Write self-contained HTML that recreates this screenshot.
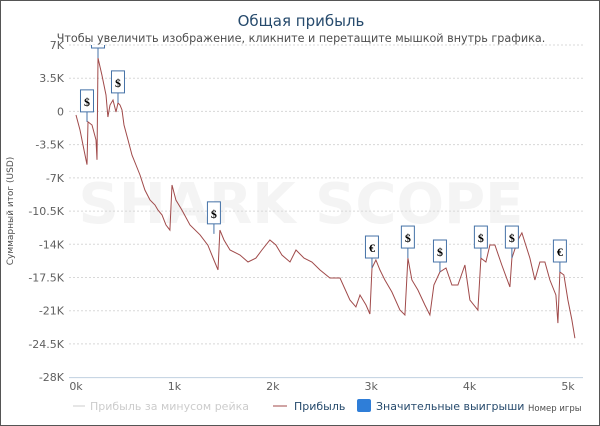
<!DOCTYPE html>
<html><head><meta charset="utf-8"><style>
body{margin:0;background:#fff;font-family:"Liberation Sans","DejaVu Sans",sans-serif}
#wrap{position:relative;width:598px;height:424px;border:1px solid #555;overflow:hidden}
svg text{font-family:"DejaVu Sans","Liberation Sans",sans-serif}
</style></head><body>
<div id="wrap">
<svg id="chart" width="598" height="424">
<defs><clipPath id="plotclip"><rect x="68" y="44" width="516" height="340"/></clipPath></defs>
<text x="300" y="25" text-anchor="middle" font-size="15" fill="#274b6d">Общая прибыль</text>
<text x="300" y="41" text-anchor="middle" font-size="11.2" fill="#4d4d4d">Чтобы увеличить изображение, кликните и перетащите мышкой внутрь графика.</text>
<text x="300" y="222" text-anchor="middle" font-size="56" font-weight="bold" fill="#f4f4f4">SHARK SCOPE</text>
<g id="grid"></g><g id="series"></g><g id="flags" clip-path="url(#plotclip)"></g><g id="axes"></g>
<text transform="translate(12,210) rotate(-90)" text-anchor="middle" font-size="9" fill="#4d4d4d">Суммарный итог (USD)</text>
<g>
<line x1="72" y1="405" x2="84" y2="405" stroke="#ccc"/>
<text x="89" y="409" font-size="11" fill="#ccc">Прибыль за минусом рейка</text>
<line x1="272" y1="405" x2="286" y2="405" stroke="#a04a4a"/>
<text x="293" y="409" font-size="11" fill="#274b6d">Прибыль</text>
<rect x="356" y="398" width="14" height="13" rx="2" fill="#2f7ed8"/>
<text x="375" y="409" font-size="11" fill="#274b6d">Значительные выигрыши</text>
<text x="527" y="410" font-size="8.5" fill="#4d4d4d">Номер игры</text>
</g>
</svg></div>
<script>
const games=[20,61,102,132,142,183,224,234,244,284,325,345,366,396,427,447,467,488,508,549,589,630,671,721,772,823,853,894,935,975,996,1036,1097,1179,1280,1361,1422,1463,1483,1524,1585,1687,1768,1849,1910,1991,2052,2113,2195,2256,2337,2418,2499,2601,2703,2804,2865,2906,2967,3007,3028,3068,3109,3160,3231,3312,3363,3393,3434,3495,3566,3617,3658,3719,3780,3840,3901,3973,4023,4105,4135,4186,4227,4277,4348,4430,4450,4511,4552,4633,4684,4735,4786,4836,4897,4918,4938,4979,5019,5060,5090];
const profit=[-0.38,-1.96,-4.06,-5.6,-1.1,-1.43,-3.0,-5.1,5.63,3.84,1.73,-0.59,0.68,1.2,-0.06,0.9,0.68,0.15,-1.43,-3.0,-4.6,-5.64,-6.7,-8.28,-9.33,-9.86,-10.39,-10.9,-11.97,-12.5,-7.75,-9.33,-10.39,-11.97,-13.0,-14.1,-15.66,-16.7,-12.5,-13.55,-14.6,-15.13,-15.87,-15.45,-14.6,-13.55,-14.07,-15.13,-15.87,-14.6,-15.45,-15.87,-16.7,-17.55,-17.55,-19.87,-20.6,-19.34,-20.4,-21.35,-16.5,-15.66,-16.7,-17.76,-19.03,-20.92,-21.45,-15.45,-17.76,-18.82,-20.4,-21.45,-18.29,-16.92,-16.5,-18.29,-18.29,-16.18,-19.87,-20.92,-15.45,-15.87,-14.07,-14.07,-16.18,-18.5,-15.45,-13.55,-12.8,-15.45,-17.76,-15.87,-15.87,-17.76,-19.34,-22.3,-16.92,-17.24,-19.87,-21.98,-23.9];
const flagGames=[132,244,447,1422,3028,3393,3719,4135,4450,4938];
const flagValues=[-1.1,5.63,0.9,-12.9,-16.5,-15.45,-16.92,-15.45,-15.45,-16.92];
const flagSymbols=["$","$","$","$","€","$","$","$","$","€"];
const yTicks=[7,3.5,0,-3.5,-7,-10.5,-14,-17.5,-21,-24.5,-28];
const yLabels=["7K","3.5K","0","-3.5K","-7K","-10.5K","-14K","-17.5K","-21K","-24.5K","-28K"];
const xTicks=[0,1000,2000,3000,4000,5000];
const xLabels=["0k","1k","2k","3k","4k","5k"];
const NS="http://www.w3.org/2000/svg";
const X=g=>73+g*0.0984, Y=v=>44+(7-v)*9.49;
function mk(t,a,p){const e=document.createElementNS(NS,t);for(const k in a)e.setAttribute(k,a[k]);p.appendChild(e);return e;}
const grid=document.getElementById('grid'),axes=document.getElementById('axes');
yTicks.forEach((v,i)=>{
 if(i<yTicks.length-1){const l=mk('line',{x1:68,x2:582,y1:Y(v),y2:Y(v),stroke:'#d8d8d8','stroke-dasharray':'2,2'},grid);
 
 }
 const t=mk('text',{x:63,y:Y(v)+4,'text-anchor':'end','font-size':11,fill:'#606060'},axes);t.textContent=yLabels[i];
 
 
});
const ax=mk('line',{x1:68,x2:582,y1:Y(-28)+0.5,y2:Y(-28)+0.5,stroke:'#c0d0e0'},axes);


xTicks.forEach((g,i)=>{const t=mk('text',{x:X(g)+2,y:389,'text-anchor':'middle','font-size':11,fill:'#606060'},axes);t.textContent=xLabels[i];
 
 });
const pts=games.map((g,i)=>X(g).toFixed(1)+','+Y(profit[i]).toFixed(1)).join(' ');
const pl=mk('polyline',{points:pts,fill:'none',stroke:'#a04a4a','stroke-width':1},document.getElementById('series'));


const fg=document.getElementById('flags');
flagGames.forEach((g,i)=>{const x=X(g),y=Y(flagValues[i]);
 const grp=mk('g',{},fg);
 
 
 mk('line',{x1:x,x2:x,y1:y-10,y2:y,stroke:'#4572a7'},grp);
 mk('rect',{x:x-6.5,y:y-32,width:13,height:22,fill:'#fff',stroke:'#4572a7'},grp);
 const t=mk('text',{x:x,y:y-16,'text-anchor':'middle','font-size':12,'font-weight':'bold',fill:'#000'},grp);t.textContent=flagSymbols[i];
 t.setAttribute('style','font-family:"Liberation Serif",serif');});
</script>
</body></html>
